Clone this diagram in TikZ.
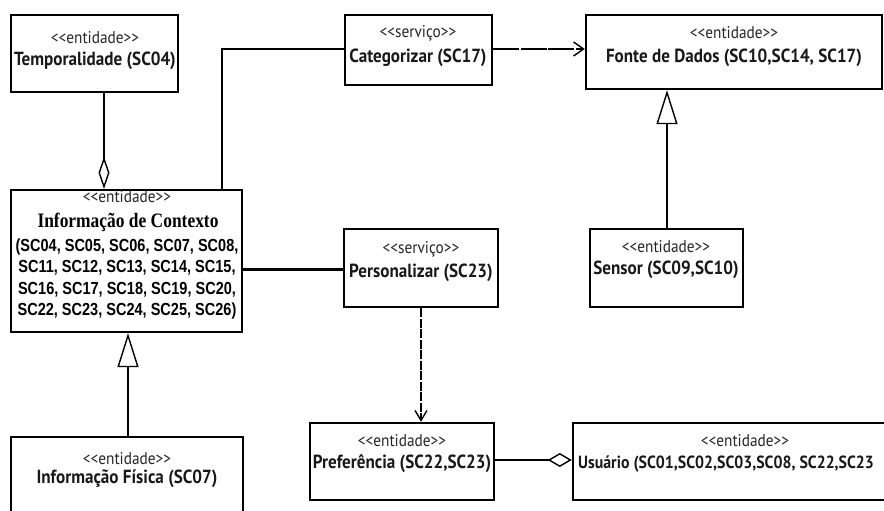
\documentclass[tikz,border=0pt]{standalone}
\usepackage{fontspec}
\usetikzlibrary{arrows.meta}
% narrow-set faces for the class boxes
\newfontfamily\stfont[FakeStretch=0.9]{PT Sans}
\newfontfamily\nmfont[FakeStretch=0.9]{PT Sans}
\newfontfamily\serfont[FakeStretch=0.85]{Liberation Serif}
\newfontfamily\lstfont[FakeStretch=0.83]{Liberation Sans}
\newcommand\stereo[1]{<{}<#1>{}>}
\tikzset{
  box/.style={draw=black, line width=2.4pt, fill=white, inner sep=0pt},
  st/.style={inner sep=0pt, font=\stfont\fontsize{17}{19}\selectfont, text=black!85},
  nm/.style={inner sep=0pt, font=\nmfont\bfseries\fontsize{19}{21}\selectfont, text=black!90},
  ser/.style={inner sep=0pt, font=\serfont\bfseries\fontsize{20.5}{22}\selectfont},
  lst/.style={inner sep=0pt, font=\lstfont\bfseries\fontsize{17.5}{21.5}\selectfont, align=center},
  conn/.style={draw=black, line width=1.6pt},
  thick conn/.style={draw=black, line width=3pt},
  dep/.style={draw=black, line width=1.8pt, dash pattern=on 26pt off 1.5pt,
    -{Straight Barb[length=10pt, width=14pt, line width=1.4pt]}},
  depv/.style={draw=black, line width=2pt, dash pattern=on 9pt off 1.5pt,
    -{Straight Barb[length=10pt, width=12pt, line width=1.4pt]}},
  gen/.style={draw=black, line width=1.8pt,
    -{Triangle[open, length=34pt, width=21pt, line width=1.4pt]}},
  agg/.style={draw=black, line width=1.6pt,
    -{Diamond[open, length=32pt, width=11pt, line width=1.4pt]}},
  aggh/.style={draw=black, line width=1.6pt,
    -{Diamond[open, length=24pt, width=14pt, line width=1.4pt]}}
}
\begin{document}
\begin{tikzpicture}[x=1pt, y=-1pt]
\useasboundingbox (0,0) rectangle (884,511);
\clip (0,0) rectangle (884,511);
\fill[white] (0,0) rectangle (884,511);

% class boxes
\node[box, minimum width=167pt, minimum height=77pt] (temp) at (94.5,53.5) {};
\node[box, minimum width=231pt, minimum height=142pt] (ctx) at (126.5,261) {};
\node[box, minimum width=232pt, minimum height=80pt] (fis) at (127,477) {};
\node[box, minimum width=147pt, minimum height=70pt] (cat) at (418.5,50) {};
\node[box, minimum width=154pt, minimum height=78pt] (pers) at (421,268) {};
\node[box, minimum width=296pt, minimum height=74pt] (fonte) at (734,52) {};
\node[box, minimum width=153pt, minimum height=78pt] (sensor) at (666.5,268) {};
\node[box, minimum width=184pt, minimum height=77pt] (pref) at (402,461.5) {};
\node[box, minimum width=330pt, minimum height=77pt] (usr) at (738,461.5) {};

% labels
\node[st] (temp-st) at (95,38) {\stereo{entidade}};
\node[nm] (temp-nm) at (95,61) {Temporalidade (SC04)};

\node[st] (ctx-st) at (127,197) {\stereo{entidade}};
\node[ser] (ctx-nm) at (128,222) {Informação de Contexto};
\node[lst] (ctx-list) at (127,279) {(SC04, SC05, SC06, SC07, SC08,\\SC11, SC12, SC13, SC14, SC15,\\SC16, SC17, SC18, SC19, SC20,\\SC22, SC23, SC24, SC25, SC26)};

\node[st] (fis-st) at (127,459) {\stereo{entidade}};
\node[nm] (fis-nm) at (127,479) {Informação Física (SC07)};

\node[st] (cat-st) at (418,33) {\stereo{serviço}};
\node[nm] (cat-nm) at (418,58) {Categorizar (SC17)};

\node[st] (pers-st) at (421,249) {\stereo{serviço}};
\node[nm] (pers-nm) at (421,273) {Personalizar (SC23)};

\node[st] (fonte-st) at (734,33) {\stereo{entidade}};
\node[nm] (fonte-nm) at (734,58) {Fonte de Dados (SC10,SC14, SC17)};

\node[st] (sensor-st) at (666,247) {\stereo{entidade}};
\node[nm] (sensor-nm) at (666,270) {Sensor (SC09,SC10)};

\node[st] (pref-st) at (402,441) {\stereo{entidade}};
\node[nm] (pref-nm) at (402,464) {Preferência (SC22,SC23)};

\node[st] (usr-st) at (745,441) {\stereo{entidade}};
\node[nm, anchor=west, font=\nmfont\bfseries\fontsize{17.6}{20}\selectfont]
  (usr-nm) at (578,464) {Usuário (SC01,SC02,SC03,SC08, SC22,SC23};

% connectors
\path[agg] (temp.south -| 104,0) -- (ctx.north -| 104,0);
\coordinate (bend) at (222,49);
\draw[conn] (ctx.north -| bend) -- (bend) -- (cat.west |- bend);
\path[dep] (cat.east |- 0,49) -- (fonte.west |- 0,49);
\path[gen] (sensor.north -| 667,0) -- (fonte.south -| 667,0);
\draw[thick conn] (ctx.east |- 0,269) -- (pers.west |- 0,269);
\path[depv] (pers.south) -- (pref.north -| pers.south);
\path[gen] (fis.north -| 128,0) -- (ctx.south -| 128,0);
\path[aggh] (pref.east |- 0,460) -- (usr.west |- 0,460);
\end{tikzpicture}
\end{document}
